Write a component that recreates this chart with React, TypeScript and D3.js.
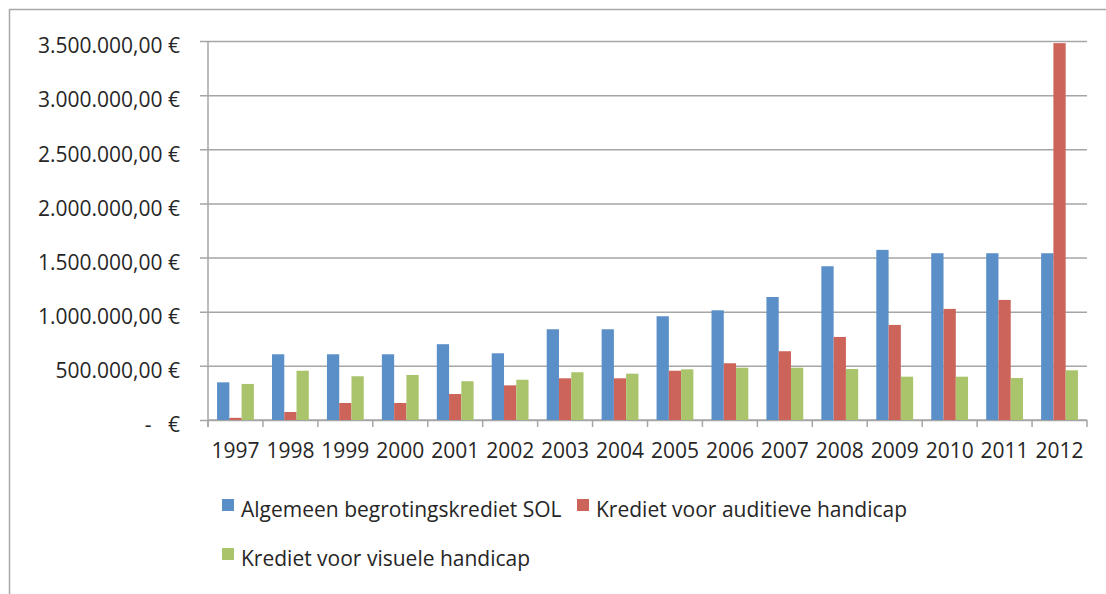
import React, { useEffect, useRef } from 'react'
import * as d3 from 'd3'

// years on the x axis
const years = ['1997', '1998', '1999', '2000', '2001', '2002', '2003', '2004',
  '2005', '2006', '2007', '2008', '2009', '2010', '2011', '2012']

const seriesNames = [
  'Algemeen begrotingskrediet SOL',
  'Krediet voor auditieve handicap',
  'Krediet voor visuele handicap',
]

// (euro)
const algemeen = [348000, 607000, 607000, 607000, 700000, 616000, 838000, 838000,
  958000, 1013000, 1136000, 1420000, 1571000, 1540000, 1540000, 1540000]
const auditief = [20000, 74000, 157000, 157000, 240000, 320000, 385000, 385000,
  455000, 524000, 635000, 767000, 878000, 1026000, 1109000, 3480000]
const visueel = [333000, 455000, 404000, 416000, 358000, 372000, 441000, 428000,
  468000, 483000, 483000, 471000, 400000, 400000, 388000, 459000]

const yTicks = [0, 500000, 1000000, 1500000, 2000000, 2500000, 3000000, 3500000]

const colors = ['#5B8FC8', '#CC6459', '#A9C46B']

const W = 1106
const H = 594
const FONT = '"Open Sans", sans-serif'

function fmtEuro(v: number) {
  if (v === 0) return '-   €'
  const s = d3.format(',.2f')(v) // 3,500,000.00
  return s.replace(/,/g, 'X').replace('.', ',').replace(/X/g, '.') + ' €'
}

export default function App() {
  const svgRef = useRef<SVGSVGElement>(null)

  useEffect(() => {
    const svg = d3.select(svgRef.current)
    svg.selectAll('*').remove()

    const left = 208
    const right = 1087
    const top = 41
    const bottom = 420

    const x0 = d3.scaleBand().domain(years).range([left, right])
      .paddingInner(0.33).paddingOuter(0.165)
    const x1 = d3.scaleBand().domain(seriesNames).range([0, x0.bandwidth()])
    const y = d3.scaleLinear().domain([0, 3500000]).range([bottom, top])

    // chart frame (right/bottom edges fall outside the picture)
    svg.append('rect')
      .attr('x', 9.5).attr('y', 9.5)
      .attr('width', W + 20).attr('height', H + 20)
      .attr('fill', 'white').attr('stroke', '#a8a8a8').attr('stroke-width', 1.5)

    // y axis with gridlines
    const yAxis = d3.axisLeft(y).tickValues(yTicks)
      .tickSize(-(right - left + 8)).tickPadding(20)
      .tickFormat((d) => fmtEuro(d as number))
    const gy = svg.append('g')
      .attr('transform', `translate(${left - 8},0)`)
      .call(yAxis)
    gy.select('.domain').remove()
    gy.selectAll('.tick line').attr('stroke', '#a6a6a6').attr('stroke-width', 1.5)
    gy.selectAll('.tick text')
      .attr('font-family', FONT).attr('font-size', 21)
      .attr('fill', '#262626').attr('dy', '0.56em')
      .style('white-space', 'pre')

    // vertical axis line
    svg.append('line')
      .attr('x1', left).attr('x2', left)
      .attr('y1', top).attr('y2', bottom + 7)
      .attr('stroke', '#a6a6a6').attr('stroke-width', 1.5)

    // x axis labels
    const xAxis = d3.axisBottom(x0).tickSize(0).tickPadding(23)
    const gx = svg.append('g')
      .attr('transform', `translate(0,${bottom})`)
      .call(xAxis)
    gx.select('.domain').attr('stroke', '#a6a6a6').attr('stroke-width', 1.5)
      .attr('d', `M${left},0H${right}`)
    gx.selectAll('.tick text')
      .attr('font-family', FONT).attr('font-size', 21).attr('fill', '#262626')

    // tick marks between categories
    const step = x0.step()
    const bounds = d3.range(years.length + 1).map((i) => left + i * step)
    svg.append('g').selectAll('line').data(bounds).join('line')
      .attr('x1', (d) => d).attr('x2', (d) => d)
      .attr('y1', bottom).attr('y2', bottom + 7)
      .attr('stroke', '#a6a6a6').attr('stroke-width', 1.5)

    // bars
    const series = [algemeen, auditief, visueel]
    const rows = years.map((yr, i) => ({
      year: yr,
      vals: seriesNames.map((name, s) => ({ name, s, v: series[s][i] })),
    }))
    const groups = svg.append('g').selectAll('g').data(rows).join('g')
      .attr('transform', (d) => `translate(${x0(d.year)},0)`)
    groups.selectAll('rect').data((d) => d.vals).join('rect')
      .attr('x', (d) => x1(d.name)!)
      .attr('width', x1.bandwidth())
      .attr('y', (d) => y(d.v))
      .attr('height', (d) => bottom - y(d.v))
      .attr('fill', (d) => colors[d.s])

    // legend
    const legendPos = [
      { x: 222, y: 506 },
      { x: 577, y: 506 },
      { x: 222, y: 555 },
    ]
    const lg = svg.append('g').selectAll('g').data(seriesNames).join('g')
      .attr('transform', (_d, i) => `translate(${legendPos[i].x},${legendPos[i].y})`)
    lg.append('rect')
      .attr('x', 0).attr('y', -7).attr('width', 12).attr('height', 12)
      .attr('fill', (_d, i) => colors[i])
    lg.append('text')
      .attr('x', 19).attr('y', 11)
      .attr('font-family', FONT).attr('font-size', 21).attr('fill', '#262626')
      .text((d) => d)
  }, [])

  return (
    <div style={{ position: 'fixed', left: 0, top: 0, width: W, height: H, background: 'white' }}>
      <svg ref={svgRef} width={W} height={H} style={{ display: 'block' }} />
    </div>
  )
}
